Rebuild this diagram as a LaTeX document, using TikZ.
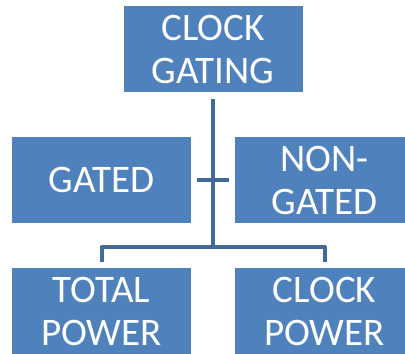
\documentclass[tikz,border=0pt]{standalone}
\usepackage{fontspec}
\setmainfont{Carlito}
\definecolor{boxblue}{HTML}{4F81BD}
\definecolor{lineblue}{HTML}{41699A}
\tikzset{
  box/.style={rectangle, fill=boxblue, text=white, inner sep=0pt,
    minimum width=179pt, minimum height=86pt, align=center,
    font=\fontsize{39}{43}\selectfont},
  link/.style={draw=lineblue, line width=4pt, line join=round}
}
\begin{document}
\begin{tikzpicture}[x=1pt,y=-1pt]
      \useasboundingbox (0,0) rectangle (405,354);
      \clip (0,0) rectangle (405,354);
      \draw
        (213,49) node[box] (gating){CLOCK\\GATING}
        (101.5,180) node[box] (gated){GATED}
        (324.5,180) node[box] (nongated){NON-\\GATED}
        (101.5,311) node[box] (total){TOTAL\\POWER}
        (324.5,311) node[box] (clock){CLOCK\\POWER};
      \coordinate (hub) at (213,247);
      \begin{scope}[link]
        \draw ([yshift=-7pt]gating.south) to (hub);
        \draw ([xshift=6pt]gated.east) to ([xshift=-6pt]nongated.west);
        \draw ([yshift=6pt]total.north) |- (hub) -| ([yshift=6pt]clock.north);
      \end{scope}
    \end{tikzpicture}
\end{document}
